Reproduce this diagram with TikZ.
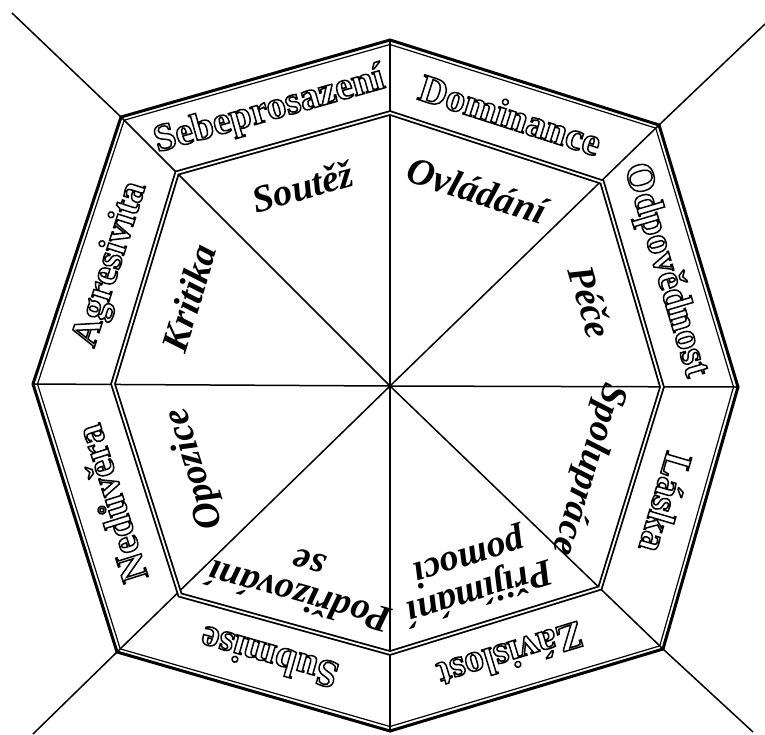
\documentclass[tikz,border=0pt]{standalone}
\usepackage{fontspec}
\setmainfont{Liberation Serif}
\usetikzlibrary{calc}

% hollow letters: stroke the glyph outlines only
\newcommand{\hollow}[1]{\special{pdf:code q 1 Tr 1.5 w}#1\special{pdf:code Q}}

\tikzset{
  outerlabel/.style={sloped, allow upside down, inner sep=0pt, font=\bfseries\fontsize{39}{40}\selectfont},
  innerlabel/.style={sloped, allow upside down, inner sep=0pt, align=center, font=\bfseries\itshape\fontsize{38}{34}\selectfont},
  spoke/.style={line width=1.5pt},
  rim/.style={line width=3pt, line join=miter},
  rimline/.style={line width=1.2pt, line join=miter},
  seam/.style={line width=1.8pt, double distance=1.8pt, line join=miter},
}

\begin{document}
\begin{tikzpicture}[x=1pt, y=-1pt]
\useasboundingbox (0,0) rectangle (765,734);

% centre, outer and inner corners (clockwise from the top)
\coordinate (c) at (390,386);
\coordinate (o1) at (390,40);
\coordinate (o2) at (659,125);
\coordinate (o3) at (738,387);
\coordinate (o4) at (663,649);
\coordinate (o5) at (390,731);
\coordinate (o6) at (117,652);
\coordinate (o7) at (33,384);
\coordinate (o8) at (121,117);
\coordinate (i1) at (390,113);
\coordinate (i2) at (602,182);
\coordinate (i3) at (662,387);
\coordinate (i4) at (600,588);
\coordinate (i5) at (390,653);
\coordinate (i6) at (180,595);
\coordinate (i7) at (113,384);
\coordinate (i8) at (177,173);
% free ends of the diagonals
\coordinate (e2) at (765,24);
\coordinate (e4) at (753,732);
\coordinate (e6) at (33,734);
\coordinate (e8) at (12,13);

% spokes
\foreach \k in {1,...,8}
  \draw[spoke] (c) -- (o\k);
\foreach \k in {2,4,6,8}
  \draw[spoke] (o\k) -- (e\k);

% borders
\draw[seam] (i1) -- (i2) -- (i3) -- (i4) -- (i5) -- (i6) -- (i7) -- (i8) -- cycle;
\draw[rim] (o1) -- (o2) -- (o3) -- (o4) -- (o5) -- (o6) -- (o7) -- (o8) -- cycle;
\draw[rimline] ($(o1)!4.5pt!(c)$) -- ($(o2)!4.5pt!(c)$) -- ($(o3)!4.5pt!(c)$)
  -- ($(o4)!4.5pt!(c)$) -- ($(o5)!4.5pt!(c)$) -- ($(o6)!4.5pt!(c)$)
  -- ($(o7)!4.5pt!(c)$) -- ($(o8)!4.5pt!(c)$) -- cycle;

% outer ring
\path ($(i8)!.5!(o8)$) -- node[outerlabel] (sebe) {\hollow{Sebeprosazení}} ($(i1)!.5!(o1)$);
\path ($(i1)!.5!(o1)$) -- node[outerlabel] (domi) {\hollow{Dominance}} ($(i2)!.5!(o2)$);
\path ($(i2)!.5!(o2)$) -- node[outerlabel] (odpo) {\hollow{Odpovědnost}} ($(i3)!.5!(o3)$);
\path ($(i3)!.5!(o3)$) -- node[outerlabel] (lask) {\hollow{Láska}} ($(i4)!.5!(o4)$);
\path ($(i4)!.5!(o4)$) -- node[outerlabel] (zavi) {\hollow{Závislost}} ($(i5)!.5!(o5)$);
\path ($(i5)!.5!(o5)$) -- node[outerlabel] (subm) {\hollow{Submise}} ($(i6)!.5!(o6)$);
\path ($(i6)!.5!(o6)$) -- node[outerlabel] (nedu) {\hollow{Nedůvěra}} ($(i7)!.5!(o7)$);
\path ($(i7)!.5!(o7)$) -- node[outerlabel] (agre) {\hollow{Agresivita}} ($(i8)!.5!(o8)$);

% inner sectors
\path ($(c)!.82!(i8)$) -- node[innerlabel] (sout) {Soutěž} ($(c)!.82!(i1)$);
\path ($(c)!.82!(i1)$) -- node[innerlabel] (ovla) {Ovládání} ($(c)!.82!(i2)$);
\path ($(c)!.83!(i2)$) -- node[innerlabel] (pece) {Péče} ($(c)!.83!(i3)$);
\path ($(c)!.82!(i3)$) -- node[innerlabel] (spol) {Spolupráce} ($(c)!.82!(i4)$);
\path ($(c)!.8!(i4)$) -- node[innerlabel] (prij) {Přijímání\\pomoci} ($(c)!.8!(i5)$);
\path ($(c)!.82!(i5)$) -- node[innerlabel] (podr) {Podřizování\\se} ($(c)!.82!(i6)$);
\path ($(c)!.8!(i6)$) -- node[innerlabel] (opoz) {Opozice} ($(c)!.8!(i7)$);
\path ($(c)!.82!(i7)$) -- node[innerlabel] (krit) {Kritika} ($(c)!.82!(i8)$);
\end{tikzpicture}
\end{document}
